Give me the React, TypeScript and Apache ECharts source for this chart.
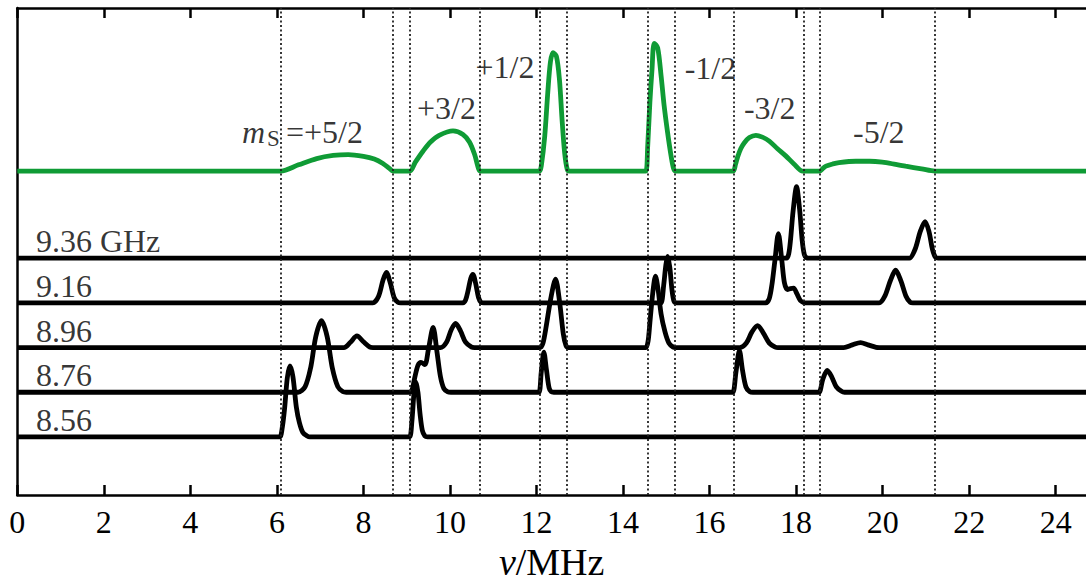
import React, { useEffect, useRef } from 'react';
import * as echarts from 'echarts';

// ---- axis ----
const tickValues = [0, 2, 4, 6, 8, 10, 12, 14, 16, 18, 20, 22, 24];
const X_MAX = 24.7;
const Y_MIN = -0.3;
const Y_MAX = 10.6;

// ---- transition boundaries (dotted lines), MHz ----
const boundaries = [6.09, 8.68, 9.07, 10.69, 12.07, 12.71, 14.56, 15.19, 16.55, 18.17, 18.55, 21.21];

// ---- black traces: [MHz, amplitude above own baseline] ----
const traceNames = ['8.56', '8.76', '8.96', '9.16', '9.36 GHz'];
const traceOffsets = [1, 2, 3, 4, 5];

const trace856 = [
  [0, 0], [6.0, 0], [6.07, 0], [6.13, 0.25], [6.18, 0.66], [6.24, 1.32], [6.3, 1.59], [6.37, 1.35], [6.45, 0.66], [6.52, 0.32], [6.6, 0.1], [6.7, 0.02], [6.76, 0],
  [9.0, 0], [9.07, 0], [9.12, 0.35], [9.17, 1.0], [9.21, 1.23], [9.26, 1.0], [9.31, 0.5], [9.36, 0.15], [9.42, 0.02], [9.48, 0], [X_MAX, 0],
];
const trace876 = [
  [0, 0], [6.42, 0], [6.49, 0], [6.65, 0.12], [6.78, 0.55], [6.9, 1.25], [7.03, 1.6], [7.16, 1.25], [7.28, 0.55], [7.41, 0.12], [7.53, 0.01], [7.6, 0],
  [9.05, 0], [9.12, 0.04], [9.18, 0.3], [9.26, 0.6], [9.33, 0.67], [9.42, 0.62], [9.5, 0.95], [9.61, 1.45], [9.7, 0.9], [9.78, 0.35], [9.86, 0.08], [9.95, 0.01], [10.02, 0],
  [12.0, 0], [12.06, 0], [12.11, 0.45], [12.17, 0.9], [12.23, 0.5], [12.29, 0.1], [12.34, 0.01], [12.4, 0],
  [16.48, 0], [16.54, 0], [16.61, 0.45], [16.69, 0.93], [16.76, 0.5], [16.84, 0.12], [16.93, 0.01], [17.0, 0],
  [18.46, 0], [18.53, 0], [18.62, 0.3], [18.72, 0.49], [18.82, 0.35], [18.93, 0.12], [19.05, 0.02], [19.12, 0], [X_MAX, 0],
];
const trace896 = [
  [0, 0], [7.48, 0], [7.55, 0], [7.7, 0.12], [7.85, 0.26], [8.0, 0.13], [8.15, 0.01], [8.22, 0],
  [9.72, 0], [9.78, 0], [9.92, 0.12], [10.03, 0.4], [10.13, 0.54], [10.24, 0.38], [10.36, 0.12], [10.5, 0.01], [10.57, 0],
  [12.02, 0], [12.08, 0], [12.15, 0.1], [12.22, 0.45], [12.33, 1.1], [12.44, 1.53], [12.53, 1.05], [12.62, 0.3], [12.68, 0.05], [12.74, 0],
  [14.47, 0], [14.53, 0], [14.58, 0.15], [14.62, 0.55], [14.69, 1.25], [14.75, 1.6], [14.81, 1.3], [14.88, 0.75], [14.97, 0.35], [15.06, 0.1], [15.16, 0.01], [15.22, 0],
  [16.64, 0], [16.7, 0], [16.85, 0.1], [16.98, 0.35], [17.11, 0.49], [17.24, 0.33], [17.38, 0.1], [17.52, 0.01], [17.58, 0],
  [19.04, 0], [19.1, 0], [19.3, 0.06], [19.49, 0.11], [19.66, 0.06], [19.85, 0.005], [19.92, 0], [X_MAX, 0],
];
const trace916 = [
  [0, 0], [8.16, 0], [8.22, 0], [8.35, 0.15], [8.45, 0.5], [8.53, 0.68], [8.62, 0.45], [8.71, 0.12], [8.8, 0.01], [8.86, 0],
  [10.24, 0], [10.3, 0], [10.36, 0.06], [10.42, 0.28], [10.48, 0.55], [10.53, 0.64], [10.59, 0.45], [10.66, 0.12], [10.72, 0.01], [10.78, 0],
  [14.82, 0], [14.88, 0], [14.94, 0.4], [14.99, 0.85], [15.03, 1.04], [15.08, 0.8], [15.13, 0.3], [15.18, 0.03], [15.24, 0],
  [17.24, 0], [17.3, 0], [17.38, 0.1], [17.44, 0.4], [17.51, 0.95], [17.59, 1.55], [17.67, 0.95], [17.73, 0.45], [17.8, 0.3], [17.87, 0.32], [17.94, 0.33], [18.02, 0.2], [18.1, 0.05], [18.17, 0.01], [18.23, 0],
  [19.86, 0], [19.92, 0], [20.05, 0.15], [20.18, 0.5], [20.3, 0.73], [20.42, 0.5], [20.54, 0.15], [20.64, 0.01], [20.7, 0], [X_MAX, 0],
];
const trace936 = [
  [0, 0], [17.72, 0], [17.78, 0], [17.83, 0.1], [17.87, 0.4], [17.93, 1.05], [18.01, 1.6], [18.08, 1.1], [18.14, 0.4], [18.19, 0.08], [18.24, 0.01], [18.3, 0],
  [20.55, 0], [20.62, 0], [20.75, 0.2], [20.87, 0.6], [20.98, 0.82], [21.07, 0.6], [21.15, 0.2], [21.22, 0.02], [21.28, 0], [X_MAX, 0],
];
const traces = [trace856, trace876, trace896, trace916, trace936];

// ---- green (simulated) trace ----
const greenOffset = 6.95;
const greenTrace = [
  [0, 0], [6.02, 0], [6.09, 0], [6.5, 0.14], [6.92, 0.28], [7.3, 0.35], [7.65, 0.37], [8.0, 0.33], [8.25, 0.27], [8.45, 0.17], [8.6, 0.06], [8.68, 0],
  [9.07, 0], [9.2, 0.2], [9.38, 0.45], [9.55, 0.65], [9.75, 0.8], [10.07, 0.9], [10.3, 0.82], [10.45, 0.65], [10.57, 0.37], [10.64, 0.12], [10.69, 0], [10.76, 0],
  [12.0, 0], [12.07, 0], [12.11, 0.11], [12.19, 0.78], [12.26, 1.75], [12.32, 2.43], [12.38, 2.65], [12.46, 2.57], [12.53, 2.05], [12.59, 1.16], [12.65, 0.41], [12.71, 0.04], [12.76, 0],
  [14.46, 0], [14.53, 0], [14.57, 0.56], [14.62, 1.53], [14.67, 2.28], [14.72, 2.86], [14.8, 2.76], [14.88, 2.13], [14.95, 1.46], [15.03, 0.86], [15.11, 0.34], [15.17, 0.05], [15.22, 0],
  [16.48, 0], [16.55, 0], [16.6, 0.15], [16.65, 0.32], [16.72, 0.5], [16.8, 0.63], [16.92, 0.75], [17.07, 0.8], [17.22, 0.76], [17.38, 0.67], [17.57, 0.5], [17.76, 0.34], [17.95, 0.16], [18.15, 0], [18.22, 0],
  [18.48, 0], [18.55, 0], [18.62, 0.06], [18.69, 0.11], [18.85, 0.16], [18.99, 0.19], [19.38, 0.22], [19.7, 0.22], [19.99, 0.2], [20.3, 0.15], [20.53, 0.11], [20.9, 0.05], [21.21, 0], [X_MAX, 0],
];

// ---- green annotation labels: [MHz, y, text] ----
const msLabels = [
  [9.92, 8.36, '+3/2'],
  [11.27, 9.27, '+1/2'],
  [16.02, 9.25, '-1/2'],
  [17.39, 8.36, '-3/2'],
  [19.91, 7.83, '-5/2'],
  [7.1, 7.83, '=+5/2'],
];
const msSymbol = [5.46, 7.83, 'm'];
const msSub = [5.92, 7.68, 'S'];
const traceLabelX = 0.43;
const traceLabelDy = 0.38;

const FONT = "'Liberation Serif', 'Times New Roman', serif";
const GREEN = '#0f9b35';
const FS = 32;

export default function App() {
  const ref = useRef<HTMLDivElement>(null);
  useEffect(() => {
    const chart = echarts.init(ref.current!, null, { renderer: 'svg' });
    const blackSeries = traces.map((t, i) => ({
      type: 'line',
      name: traceNames[i],
      data: t.map(([x, y]) => [x, traceOffsets[i] + y]),
      showSymbol: false,
      smooth: 0.3,
      lineStyle: { color: '#000', width: 4.8 },
      z: 3,
      silent: true,
    }));
    const labelData: any[] = [];
    traces.forEach((_, i) => {
      labelData.push({
        value: [traceLabelX, traceOffsets[i] + traceLabelDy],
        label: { show: true, position: 'right', distance: 0, formatter: traceNames[i], fontSize: FS, fontFamily: FONT, color: '#000' },
      });
    });
    msLabels.forEach(([x, y, t]) => {
      labelData.push({
        value: [x, y],
        label: { show: true, position: 'inside', formatter: t, fontSize: FS, fontFamily: FONT, color: '#000' },
      });
    });
    labelData.push({
      value: [msSymbol[0], msSymbol[1]],
      label: { show: true, position: 'inside', formatter: msSymbol[2], fontSize: FS, fontStyle: 'italic', fontFamily: FONT, color: '#000' },
    });
    labelData.push({
      value: [msSub[0], msSub[1]],
      label: { show: true, position: 'inside', formatter: msSub[2], fontSize: 23, fontFamily: FONT, color: '#000' },
    });

    const option: any = {
      animation: false,
      backgroundColor: '#fff',
      grid: { left: 17.3, right: 0, top: 8, bottom: 85, containLabel: false, outerBoundsMode: 'none' },
      xAxis: [
        {
          type: 'value', position: 'bottom', min: 0, max: X_MAX, interval: 2,
          axisLine: { show: true, onZero: false, lineStyle: { color: '#000', width: 2.5 } },
          axisTick: { show: true, inside: true, length: 10, lineStyle: { color: '#000', width: 2.5 }, customValues: tickValues },
          axisLabel: { show: true, margin: 11, fontSize: FS, fontFamily: FONT, color: '#000', customValues: tickValues },
          splitLine: { show: false },
          name: '{i|v}/MHz',
          nameLocation: 'middle',
          nameGap: 58,
          nameTextStyle: { fontSize: 38, verticalAlign: 'middle', fontFamily: FONT, color: '#000', rich: { i: { fontSize: 38, fontFamily: FONT, fontStyle: 'italic', color: '#000' } } },
        },
        {
          type: 'value', position: 'top', min: 0, max: X_MAX, interval: 2,
          axisLine: { show: true, onZero: false, lineStyle: { color: '#000', width: 2.5 } },
          axisTick: { show: true, inside: true, length: 10, lineStyle: { color: '#000', width: 2.5 }, customValues: tickValues },
          axisLabel: { show: false },
          splitLine: { show: false },
        },
      ],
      yAxis: {
        type: 'value', min: Y_MIN, max: Y_MAX,
        axisLine: { show: true, onZero: false, lineStyle: { color: '#000', width: 2.5 } },
        axisTick: { show: false },
        axisLabel: { show: false },
        splitLine: { show: false },
      },
      series: [
        {
          type: 'line',
          data: [],
          z: 1,
          silent: true,
          markLine: {
            silent: true,
            symbol: ['none', 'none'],
            label: { show: false },
            lineStyle: { type: [2, 2.5], color: '#222', width: 1.8 },
            data: boundaries.map((v) => ({ xAxis: v })),
          },
        },
        {
          type: 'line',
          name: 'sim',
          data: greenTrace.map(([x, y]) => [x, greenOffset + y]),
          showSymbol: false,
          smooth: 0.3,
          lineStyle: { color: GREEN, width: 4.8 },
          z: 3,
          silent: true,
        },
        ...blackSeries,
        {
          type: 'scatter',
          data: labelData,
          symbolSize: 0,
          z: 5,
          silent: true,
        },
      ],
    };
    chart.setOption(option);
    return () => chart.dispose();
  }, []);
  return <div ref={ref} style={{ position: 'absolute', left: 0, top: 0, width: 1086, height: 580 }} />;
}
